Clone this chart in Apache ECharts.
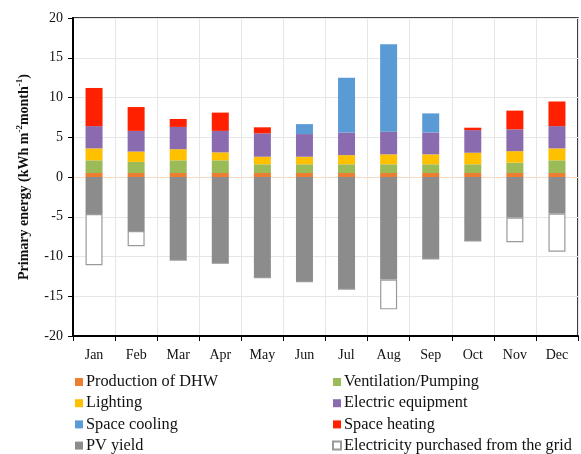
<!DOCTYPE html>
<html>
<head>
<meta charset="utf-8">
<script src="https://cdn.jsdelivr.net/npm/echarts@6/dist/echarts.min.js"></script>
<style>
  html, body { margin: 0; padding: 0; background: #fff; }
  #chart { width: 581px; height: 454px; }
</style>
</head>
<body>
<div id="chart"></div>
<script>
// Monthly primary energy balance (kWh m-2 month-1)
const months = ['Jan', 'Feb', 'Mar', 'Apr', 'May', 'Jun', 'Jul', 'Aug', 'Sep', 'Oct', 'Nov', 'Dec'];
const yTicks = [-20, -15, -10, -5, 0, 5, 10, 15, 20];

const dhw          = [0.5, 0.5, 0.5, 0.5, 0.5, 0.5, 0.5, 0.5, 0.5, 0.5, 0.5, 0.5];
const ventilation  = [1.6, 1.4, 1.6, 1.6, 1.1, 1.1, 1.1, 1.1, 1.1, 1.1, 1.3, 1.6];
const lighting     = [1.5, 1.3, 1.4, 1.0, 0.95, 0.95, 1.15, 1.25, 1.25, 1.45, 1.45, 1.5];
const equipment    = [2.8, 2.6, 2.8, 2.7, 2.95, 2.85, 2.85, 2.85, 2.75, 2.85, 2.75, 2.8];
const cooling      = [0, 0, 0, 0, 0, 1.25, 6.9, 11.0, 2.4, 0, 0, 0];
const heating      = [4.8, 3.0, 1.0, 2.3, 0.75, 0, 0, 0, 0, 0.3, 2.35, 3.1];
const pvYield      = [-4.65, -6.8, -10.45, -10.85, -12.65, -13.15, -14.1, -12.9, -10.3, -8.05, -5.1, -4.6];
const gridPurchase = [-6.45, -1.9, 0, 0, 0, 0, 0, -3.75, 0, 0, -3.1, -4.8];

const serif = '"Liberation Serif", "Times New Roman", serif';

function bar(name, data, color, border) {
  return {
    name: name,
    type: 'bar',
    stack: 'energy',
    barWidth: 17,
    data: data,
    itemStyle: border
      ? { color: color, borderColor: border, borderWidth: 1.2 }
      : { color: color },
    emphasis: { disabled: true }
  };
}

const chart = echarts.init(document.getElementById('chart'), null, { renderer: 'canvas' });

const legendText = { fontFamily: serif, fontSize: 16.3, color: '#111', padding: [0, 0, 0, -2] };
const legendBase = {
  orient: 'vertical',
  top: 374,
  height: 90,
  padding: 0,
  itemWidth: 8, itemHeight: 8, itemGap: 5.2,
  icon: 'rect',
  textStyle: legendText,
  selectedMode: false
};

chart.setOption({
  animation: false,
  backgroundColor: '#fff',
  grid: {
    left: 73, right: 3, top: 18, bottom: 118,
    show: true, borderColor: '#000', borderWidth: 1.5, backgroundColor: 'transparent'
  },
  xAxis: {
    type: 'category',
    data: months,
    axisLine: { onZero: false, lineStyle: { color: '#000', width: 2 } },
    axisTick: { show: true, length: 5, lineStyle: { color: '#000', width: 1 } },
    axisLabel: { fontFamily: serif, fontSize: 14, color: '#111', margin: 12 },
    splitLine: { show: true, lineStyle: { color: '#e6e6e6', width: 1 } }
  },
  yAxis: {
    type: 'value',
    min: yTicks[0],
    max: yTicks[yTicks.length - 1],
    interval: 5,
    axisLine: { show: true, lineStyle: { color: '#000', width: 2 } },
    axisTick: { show: true, length: 5, lineStyle: { color: '#000', width: 1 } },
    axisLabel: { fontFamily: serif, fontSize: 14, color: '#111', margin: 10 },
    splitLine: {
      show: true,
      lineStyle: {
        color: ['#e6e6e6', '#e6e6e6', '#e6e6e6', '#e6e6e6', '#f7d9c4', '#e6e6e6', '#e6e6e6', '#e6e6e6', '#e6e6e6'],
        width: 1
      }
    },
    name: '{t|Primary energy (kWh m}{s|-2}{t|month}{s|-1}{t|)}',
    nameLocation: 'middle',
    nameGap: 42,
    nameRotate: 90,
    nameTextStyle: {
      rich: {
        t: { fontFamily: serif, fontSize: 14, fontWeight: 'bold', color: '#111', lineHeight: 16, verticalAlign: 'bottom' },
        s: { fontFamily: serif, fontSize: 9, fontWeight: 'bold', color: '#111', lineHeight: 16, verticalAlign: 'top', padding: [0, 0, 6, 0] }
      }
    }
  },
  legend: [
    Object.assign({}, legendBase, {
      data: ['Production of DHW', 'Lighting', 'Space cooling', 'PV yield'],
      left: 75
    }),
    Object.assign({}, legendBase, {
      data: ['Ventilation/Pumping', 'Electric equipment', 'Space heating', 'Electricity purchased from the grid'],
      left: 332
    })
  ],
  series: [
    bar('Production of DHW', dhw, '#ED7D31'),
    bar('Ventilation/Pumping', ventilation, '#9BBB59'),
    bar('Lighting', lighting, '#FFC000'),
    bar('Electric equipment', equipment, '#8B6BB0'),
    bar('Space cooling', cooling, '#5B9BD5'),
    bar('Space heating', heating, '#FF2000'),
    bar('PV yield', pvYield, '#8C8C8C'),
    bar('Electricity purchased from the grid', gridPurchase, '#ffffff', '#9a9a9a')
  ]
});
</script>
</body>
</html>
